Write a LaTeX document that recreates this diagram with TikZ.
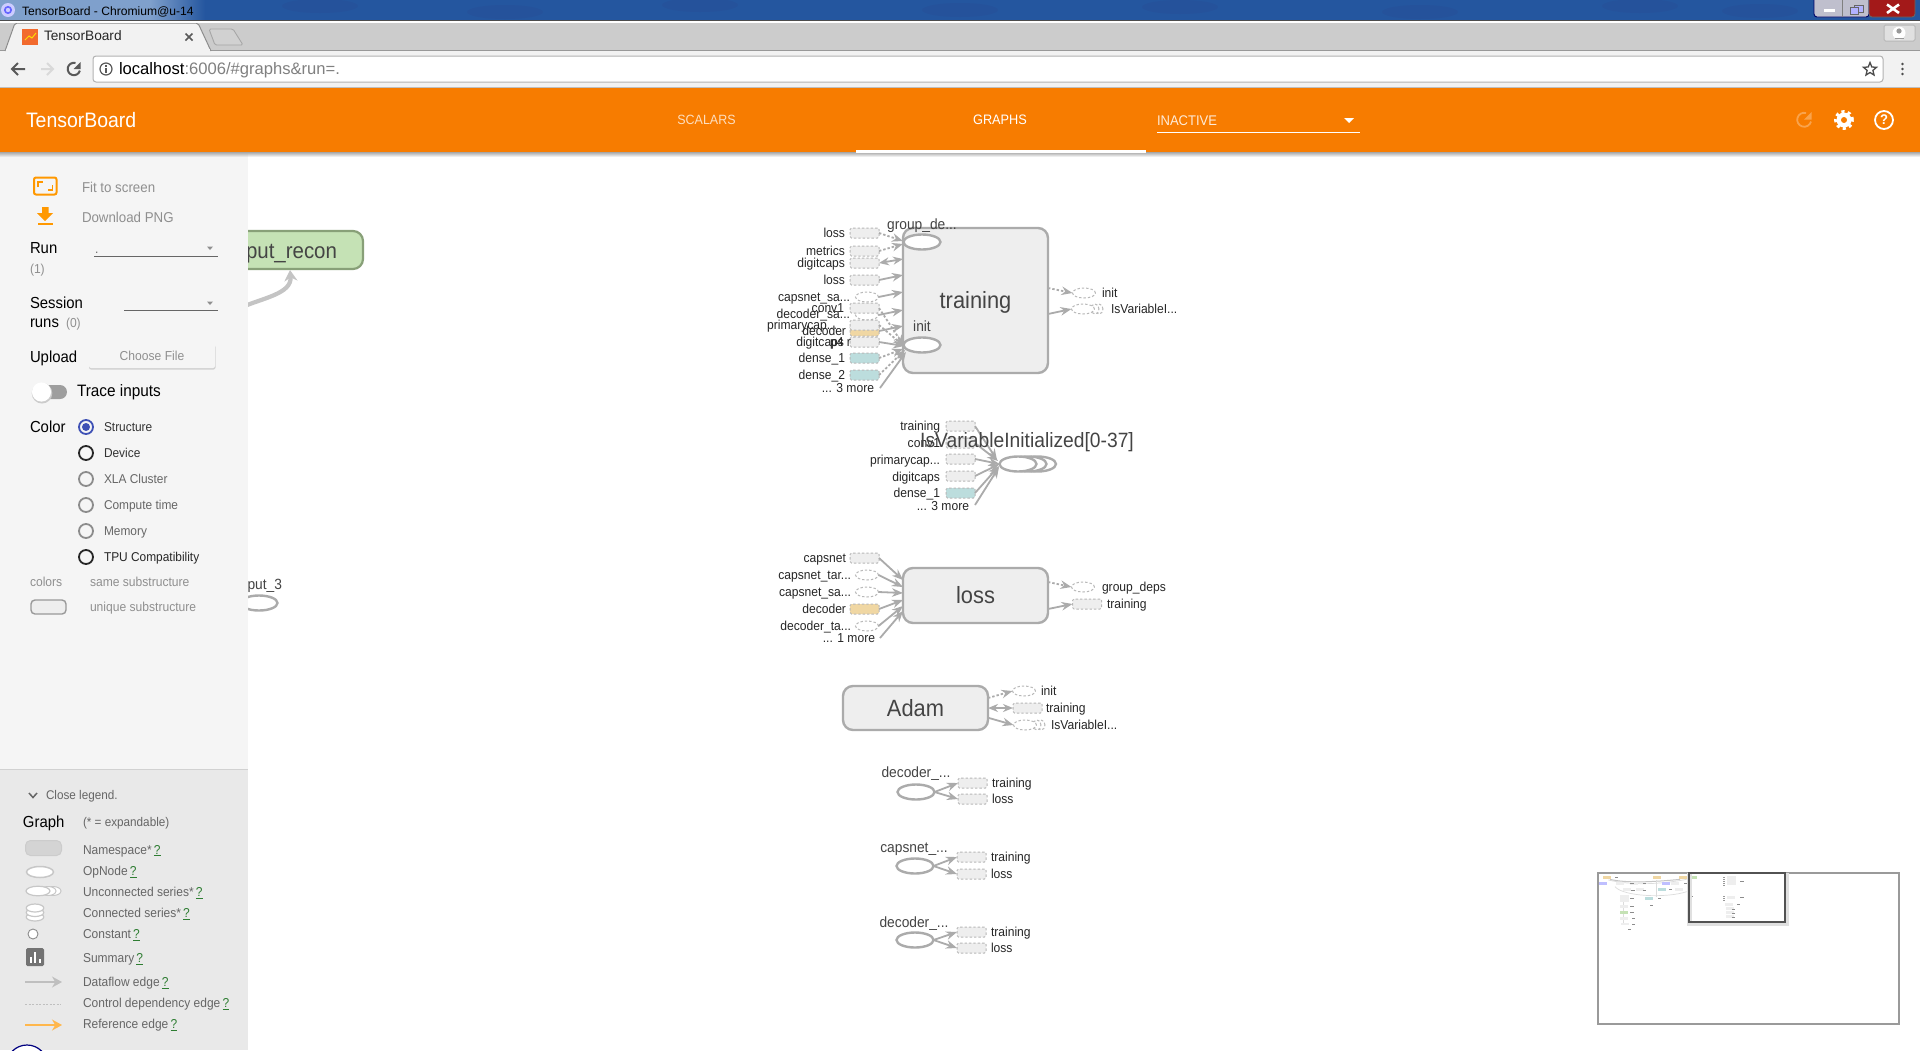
\documentclass[tikz,border=0pt]{standalone}
\usepackage{graphicx}
\usepackage{fontspec}
\setmainfont[FakeStretch=0.93]{Liberation Sans}
\newfontfamily\chromefont{Liberation Sans}
\usetikzlibrary{arrows.meta,shapes.geometric,calc}
\definecolor{gline}{HTML}{ABABAB}
\definecolor{gfill}{HTML}{EEEEEE}
\definecolor{gdash}{HTML}{B8B8B8}
\definecolor{teal1}{HTML}{BCDDDD}
\definecolor{oran1}{HTML}{F0D7A3}
\definecolor{green1}{HTML}{C5E2B5}
\definecolor{green2}{HTML}{88A078}
\definecolor{hdr}{HTML}{F77C00}
\definecolor{side}{HTML}{F5F5F5}
\definecolor{legendbg}{HTML}{E9E9E9}
\definecolor{ora}{HTML}{FF9800}
\definecolor{txg}{HTML}{8F8F8F}
\definecolor{txl}{HTML}{666666}
\definecolor{txn}{HTML}{444444}
\definecolor{qgreen}{HTML}{2E7D32}
\definecolor{radioblue}{HTML}{3F51B5}
\definecolor{strip}{HTML}{CCCCCC}
\definecolor{tool}{HTML}{F2F2F2}
\definecolor{favi}{HTML}{F26A2E}
\definecolor{tb1}{HTML}{24569F}
\definecolor{tb2}{HTML}{7FA0CC}
\tikzset{
  fs/.style={font=\fontsize{#1}{#1}\selectfont},
  tx/.style={inner sep=0pt,outer sep=0pt,execute at begin node={\rule[-.21em]{0pt}{1.14em}}},
  lbl/.style={tx,fs=13,text=black!85,anchor=east},
  lbr/.style={tx,fs=13,text=black!85,anchor=west},
  optitle/.style={tx,fs=14.8,text=txn},
  sidet/.style={tx,anchor=west,text=black,fs=16},
  sideg/.style={tx,anchor=west,text=txg,fs=13},
  radiot/.style={tx,anchor=west,fs=12.8},
  legt/.style={tx,anchor=west,text=txl,fs=12.9},
  smallbox/.style={rectangle,draw=gdash,line width=1pt,dash pattern=on 2.4pt off 2pt,fill=gfill,rounded corners=1.5pt,minimum width=29pt,minimum height=10pt,inner sep=0pt,outer sep=0pt},
  tealbox/.style={smallbox,fill=teal1},
  orabox/.style={smallbox,fill=oran1},
  smallop/.style={ellipse,draw=gdash,line width=1pt,dash pattern=on 2.4pt off 2pt,fill=white,minimum width=23pt,minimum height=10pt,inner sep=0pt,outer sep=0pt},
  bigns/.style={rectangle,draw=gline,line width=2.4pt,fill=gfill,rounded corners=10pt,inner sep=0pt,outer sep=0pt,text=txn,fs=23.5,execute at begin node={\rule[-.21em]{0pt}{1.14em}}},
  opnode/.style={ellipse,draw=gline,line width=2.4pt,fill=white,minimum width=37pt,minimum height=15pt,inner sep=0pt,outer sep=0pt},
  dflow/.style={draw=gline,line width=1.8pt,-{Stealth[length=11pt,width=8.5pt]}},
  ctrl/.style={dflow,dash pattern=on 2.4pt off 2pt},
  both/.style={draw=gline,line width=1.8pt,{Stealth[length=10pt,width=8pt]}-{Stealth[length=10pt,width=8pt]}},
}
\newcommand{\q}{\,\textcolor{qgreen}{\underline{?}}}
\begin{document}
\begin{tikzpicture}[x=1pt,y=-1pt]
\useasboundingbox (0,0) rectangle (1920,1050);
\clip (0,0) rectangle (1920,1050);
\fill[white] (0,0) rectangle (1920,1050);

%% ---------------- graph canvas: partly hidden nodes
\node[rectangle,draw=green2,line width=2.2pt,fill=green1,rounded corners=10pt,minimum width=215pt,minimum height=38pt,inner sep=0pt] (recon) at (255.5,250) {};
\node[tx,fs=22,text=txn,anchor=east] (recontxt) at (337,251) {put\_recon};
\coordinate (reconfoot) at (240,308);
\coordinate (recontip) at (290,270);
\draw[draw=gline!70,line width=4.2pt,-{Stealth[length=11pt,width=13pt]}] (reconfoot) .. controls (262,298) and (292,294) .. (recontip);
\node[optitle,anchor=east] (put3) at (282,584) {put\_3};
\node[opnode] (put3op) at (259,603) {};

%% ---------------- training
\node[bigns,minimum width=145pt,minimum height=145pt] (training) at (975.5,300.5) {training};
\node[opnode] (groupde) at (922,242) {};
\node[opnode] (initop) at (922,345) {};
\node[optitle] (groupdet) at (922,224) {group\_de...};
\node[optitle] (initt) at (922,326) {init};

\node[smallbox] (tr1) at (864.5,233) {};
\node[smallbox] (tr2) at (864.5,251) {};
\node[smallbox] (tr3) at (864.5,263) {};
\node[smallbox] (tr4) at (864.5,280) {};
\node[smallop] (tr5) at (867,297) {};
\node[smallop] (tr7) at (867,315) {};
\node[smallbox] (tr6) at (864.5,308) {};
\node[orabox] (tr9) at (864.5,331) {};
\node[smallbox] (tr8) at (864.5,325) {};
\node[smallbox] (tr10) at (864.5,342) {};
\node[tealbox] (tr11) at (864.5,358) {};
\node[tealbox] (tr12) at (864.5,375) {};

\node[lbl] (trl1) at (845,233) {loss};
\node[lbl] (trl2) at (845,251) {metrics};
\node[lbl] (trl3) at (845,263) {digitcaps};
\node[lbl] (trl4) at (845,280) {loss};
\node[lbl] (trl5) at (850,297) {capsnet\_sa...};
\node[lbl] (trl6) at (844,308) {conv1};
\node[lbl] (trl7) at (850,314) {decoder\_sa...};
\node[lbl] (trl8) at (837,325) {primarycap...};
\node[lbl] (trl9) at (846,331) {decoder};
\node[lbl] (trl10) at (844,342) {digitcaps};
\node[lbl] (trl10b) at (851,342) {p4 r};
\node[lbl] (trl11) at (845,358) {dense\_1};
\node[lbl] (trl12) at (845,375) {dense\_2};
\node[lbl] (trl13) at (874,388) {... 3 more};
\coordinate (trm) at (880,388);

\coordinate (p1) at (903,241);
\coordinate (p2) at (903,244);
\coordinate (p3) at (903,259);
\coordinate (p4) at (903,275);
\coordinate (p5) at (903,292);
\coordinate (p7) at (903,310);
\coordinate (p9) at (903,326);
\coordinate (pa) at (904,346);
\coordinate (pb) at (903,349);
\coordinate (pc) at (905,350);
\coordinate (pd) at (906,352);
\draw[ctrl] (tr1.east) -- (p1);
\draw[ctrl] (tr2.east) -- (p2);
\draw[both] (tr3.east) -- (p3);
\draw[dflow] (tr4.east) -- (p4);
\draw[dflow] (tr5.east) -- (p5);
\draw[dflow] (tr7.east) -- (p7);
\draw[dflow] (tr9.east) -- (p9);
\draw[ctrl] (tr6.east) -- (pa);
\draw[ctrl] (tr8.east) -- (pa);
\draw[dflow] (tr10.east) -- (pa);
\draw[ctrl] (tr11.east) -- (pb);
\draw[ctrl] (tr12.east) -- (pc);
\draw[dflow] (trm) -- (pd);

\node[smallop] (tro1) at (1084,293) {};
\node[smallop,minimum width=8pt] (tro2c) at (1099,309) {};
\node[smallop,minimum width=8pt] (tro2b) at (1095,309) {};
\node[smallop] (tro2) at (1083,309) {};
\node[lbr] (trol1) at (1102,293) {init};
\node[lbr] (trol2) at (1111,309) {IsVariableI...};
\coordinate (trs1) at (1048,288);
\coordinate (trs2) at (1048,314);
\draw[ctrl] (trs1) -- (tro1.west);
\draw[dflow] (trs2) -- (tro2.west);

%% ---------------- IsVariableInitialized
\node[smallbox] (iv1) at (960.5,426) {};
\node[smallbox] (iv2) at (960.5,443) {};
\node[smallbox] (iv3) at (960.5,459) {};
\node[smallbox] (iv4) at (960.5,476) {};
\node[tealbox] (iv5) at (960.5,493) {};
\node[lbl] (ivl1) at (940,426) {training};
\node[lbl] (ivl2) at (940,443) {conv1};
\node[lbl] (ivl3) at (940,460) {primarycap...};
\node[lbl] (ivl4) at (940,477) {digitcaps};
\node[lbl] (ivl5) at (940,493) {dense\_1};
\node[lbl] (ivl6) at (969,506) {... 3 more};
\coordinate (ivm) at (975,505);
\node[opnode] (ivc) at (1037.5,464) {};
\node[opnode] (ivb) at (1028,464) {};
\node[opnode] (iva) at (1018,464) {};
\draw[dflow] (iv1.east) -- (997,460);
\draw[dflow] (iv2.east) -- (998,461);
\draw[dflow] (iv3.east) -- (iva.west);
\draw[dflow] (iv4.east) -- (iva.west);
\draw[dflow] (iv5.east) -- (999,466);
\draw[dflow] (ivm) -- (999,467);
\node[tx,fs=20.7,text=txn] (ivt) at (1027,440) {IsVariableInitialized[0-37]};

%% ---------------- loss
\node[bigns,minimum width=145pt,minimum height=55pt] (lossn) at (975.5,595.5) {loss};
\node[smallbox] (ls1) at (864.5,558) {};
\node[smallop] (ls2) at (867,575) {};
\node[smallop] (ls3) at (867,592) {};
\node[orabox] (ls4) at (864.5,609) {};
\node[smallop] (ls5) at (867,626) {};
\coordinate (lsm) at (880,638);
\node[lbl] (lsl1) at (846,558) {capsnet};
\node[lbl] (lsl2) at (851,575) {capsnet\_tar...};
\node[lbl] (lsl3) at (851,592) {capsnet\_sa...};
\node[lbl] (lsl4) at (846,609) {decoder};
\node[lbl] (lsl5) at (851,626) {decoder\_ta...};
\node[lbl] (lsl6) at (875,638) {... 1 more};
\draw[dflow] (ls1.east) -- (903,580);
\draw[dflow] (ls2.east) -- (903,587);
\draw[dflow] (ls3.east) -- (903,593);
\draw[dflow] (ls4.east) -- (903,600);
\draw[dflow] (ls5.east) -- (903,606);
\draw[dflow] (lsm) -- (903,611);
\node[smallop] (lso1) at (1083,587) {};
\node[smallbox] (lso2) at (1087,604) {};
\node[lbr] (lsol1) at (1102,587) {group\_deps};
\node[lbr] (lsol2) at (1107,604) {training};
\coordinate (lss1) at (1048,582);
\coordinate (lss2) at (1048,609);
\draw[ctrl] (lss1) -- (lso1.west);
\draw[dflow] (lss2) -- (lso2.west);

%% ---------------- Adam
\node[bigns,minimum width=145pt,minimum height=44pt] (adam) at (915.5,708) {Adam};
\node[smallop] (ad1) at (1024,691) {};
\node[smallbox] (ad2) at (1027.5,708) {};
\node[smallop,minimum width=8pt] (ad3c) at (1041,725) {};
\node[smallop,minimum width=8pt] (ad3b) at (1037,725) {};
\node[smallop] (ad3) at (1025,725) {};
\node[lbr] (adl1) at (1041,691) {init};
\node[lbr] (adl2) at (1046,708) {training};
\node[lbr] (adl3) at (1051,725) {IsVariableI...};
\coordinate (ads1) at (988,698);
\coordinate (ads3) at (989,718);
\draw[ctrl] (ads1) -- (ad1.west);
\draw[both] (adam.east) -- (ad2.west);
\draw[dflow] (ads3) -- (ad3.west);

%% ---------------- three lower ops
\node[optitle] (d1t) at (916,772) {decoder\_...};
\node[opnode] (d1) at (916,792) {};
\node[smallbox] (d1a) at (972.5,783) {};
\node[smallbox] (d1b) at (972.5,799) {};
\node[lbr] (d1al) at (992,783) {training};
\node[lbr] (d1bl) at (992,799) {loss};
\draw[dflow] (d1.east) -- (d1a.west);
\draw[dflow] (d1.east) -- (d1b.west);

\node[optitle] (c1t) at (914,847) {capsnet\_...};
\node[opnode] (c1) at (915,866) {};
\node[smallbox] (c1a) at (971.5,857) {};
\node[smallbox] (c1b) at (971.5,874) {};
\node[lbr] (c1al) at (991,857) {training};
\node[lbr] (c1bl) at (991,874) {loss};
\draw[dflow] (c1.east) -- (c1a.west);
\draw[dflow] (c1.east) -- (c1b.west);

\node[optitle] (d2t) at (914,922) {decoder\_...};
\node[opnode] (d2) at (915,940) {};
\node[smallbox] (d2a) at (971.5,932) {};
\node[smallbox] (d2b) at (971.5,948) {};
\node[lbr] (d2al) at (991,932) {training};
\node[lbr] (d2bl) at (991,948) {loss};
\draw[dflow] (d2.east) -- (d2a.west);
\draw[dflow] (d2.east) -- (d2b.west);

%% ---------------- minimap
\draw[draw=txg!90,line width=1.5pt,fill=white] (1598,873) rectangle (1899,1024);
\begin{scope}[shift={(1590,860)},x=.3333pt,y=-.3333pt]
  \draw[gdash!50,line width=.7pt] (55,60) .. controls (120,75) and (200,75) .. (290,58);
  \draw[gdash!80,line width=1pt] (60,58) .. controls (110,70) and (190,66) .. (270,58);
  \draw[gdash!50,line width=.7pt] (75,80) .. controls (100,110) and (230,115) .. (290,95);
  \draw[gdash!50,line width=.7pt] (100,120) -- (100,190);
  \draw[gdash!50,line width=.7pt] (200,60) -- (200,110);
  \foreach \a/\b/\c in {52/53/oran1,200/53/oran1,280/53/oran1,308/53/green1,38/71/blue!25,227/71/blue!25,90/71/gfill,132/71/gfill,255/71/gfill,110/88/gfill,150/88/gfill,215/88/teal1,268/88/gfill,178/115/teal1,103/140/gfill,103/157/green1,103/175/gfill,105/192/gfill,417/133/gfill,421/145/gfill,421/157/gfill,421/170/gfill}
    \fill[\c] (\a-12,\b-4) rectangle (\a+12,\b+4);
  \fill[gfill] (90,106) rectangle (116,125);
  \fill[gfill] (412,49) rectangle (438,76);
  \fill[gfill] (411,108) rectangle (436,118);
  \foreach \a/\b in {78/53,125/71,162/71,128/90,162/90,240/88,285/70,207/115,125/115,125/140,125/157,130/175,130/192,118/207,455/64,455/113,445/133,430/147,430/159,430/171,302/108,183/136}
    \fill[black!45] (\a-4,\b-1.5) rectangle (\a+6,\b+1.5);
  \foreach \b in {52,58,64,70,76}
    \fill[black!40] (398,\b) rectangle (405,\b+3);
  \foreach \b in {107,113,119}
    \fill[black!40] (398,\b) rectangle (405,\b+3);
\end{scope}
\draw[black!12,line width=5pt] (1689,873) -- (1689,923) -- (1786,923) -- (1786,873);
\draw[black!68,line width=2pt] (1689,873) rectangle (1785,922);

%% ---------------- sidebar
\fill[side] (0,153) rectangle (248,770);
\fill[legendbg] (0,770) rectangle (248,1050);
\draw[black!18,line width=1pt] (0,769.5) -- (248,769.5);

% fit icon
\draw[ora,line width=2pt,rounded corners=2pt] (34,177.5) rectangle (56.5,194.5);
\draw[ora,line width=1.6pt] (38,187) -- (38,182) -- (43,182);
\draw[ora,line width=1.6pt] (52.5,185) -- (52.5,190) -- (47.5,190);
\node[sideg,fs=14.3] (fit) at (82,187) {Fit to screen};
% download icon
\fill[ora] (42,207) -- (48.5,207) -- (48.5,213) -- (53,213) -- (45,221) -- (37,213) -- (42,213) -- cycle;
\fill[ora] (37.5,222.5) rectangle (53,224.5);
\node[sideg,fs=14.3] (dl) at (82,217) {Download PNG};

\node[sidet] (run) at (30,248) {Run};
\node[sideg,fs=13] (run1) at (30,269) {(1)};
\node[tx,anchor=west,fs=13,text=txl] (rundot) at (95,249) {.};
\draw[black!60,line width=.9pt] (94,256) -- (218,256);
\fill[txg] (207,246.5) -- (213,246.5) -- (210,250) -- cycle;
\node[sidet] (sess) at (30,303) {Session};
\node[sidet] (runs) at (30,322) {runs};
\node[sideg,fs=13] (runs0) at (66,323) {(0)};
\draw[black!60,line width=.9pt] (124,310) -- (218,310);
\fill[txg] (207,301.5) -- (213,301.5) -- (210,305) -- cycle;
\node[sidet] (up) at (30,357) {Upload};
\fill[black!18,rounded corners=2pt] (89,345) rectangle (215.5,369.5);
\node[rectangle,fill=side,rounded corners=2pt,minimum width=126pt,minimum height=25pt,inner sep=0pt,text=txg,fs=13] (choose) at (152,355.5) {Choose File};
\fill[black!38!white,rounded corners=7pt] (33,385) rectangle (67,399);
\fill[black!20] (42,393.2) circle (10.3pt);
\fill[white] (41.5,392) circle (9.6pt);
\node[sidet,fs=16.5] (trace) at (77,391) {Trace inputs};
\node[sidet] (color) at (30,427) {Color};

\draw[radioblue,line width=1.8pt] (86,427) circle (7pt);
\fill[radioblue] (86,427) circle (4pt);
\node[radiot,text=black!80] (r1) at (104,427) {Structure};
\draw[black!85,line width=1.8pt] (86,453) circle (7pt);
\node[radiot,text=black!80] (r2) at (104,453) {Device};
\draw[black!45,line width=1.8pt] (86,479) circle (7pt);
\node[radiot,text=txl] (r3) at (104,479) {XLA Cluster};
\draw[black!45,line width=1.8pt] (86,505) circle (7pt);
\node[radiot,text=txl] (r4) at (104,505) {Compute time};
\draw[black!45,line width=1.8pt] (86,531) circle (7pt);
\node[radiot,text=txl] (r5) at (104,531) {Memory};
\draw[black!85,line width=1.8pt] (86,557) circle (7pt);
\node[radiot,text=black!85] (r6) at (104,557) {TPU Compatibility};
\node[sideg] (colors) at (30,582) {colors};
\node[sideg] (same) at (90,582) {same substructure};
\draw[black!40,line width=1.4pt,fill=gfill,rounded corners=4pt] (31,600) rectangle (66,614);
\node[sideg] (uniq) at (90,607) {unique substructure};

%% ---------------- legend
\draw[txl,line width=1.5pt] (29,793) -- (33,797.5) -- (37,793);
\node[legt,fs=12.6] (closel) at (46,795) {Close legend.};
\node[sidet] (graphl) at (23,822) {Graph};
\node[legt,fs=12.6] (expand) at (83,822) {(* = expandable)};
\draw[black!20,line width=1pt,fill=black!17,rounded corners=5pt] (25.5,840.5) rectangle (61.5,855.5);
\node[legt] (l1) at (83,849.5) {Namespace*\q};
\draw[black!22,line width=1.5pt,fill=white] (40,872) ellipse (13.5pt and 5.5pt);
\node[legt] (l2) at (83,871) {OpNode\q};
\draw[black!22,line width=1pt,fill=white] (53,891) ellipse (8pt and 4.5pt);
\draw[black!22,line width=1pt,fill=white] (48,891) ellipse (8pt and 4.5pt);
\draw[black!22,line width=1.2pt,fill=white] (38,891) ellipse (12pt and 4.8pt);
\node[legt] (l3) at (83,892) {Unconnected series*\q};
\draw[black!22,line width=1.2pt,fill=white] (35,917) ellipse (8.8pt and 4pt);
\draw[black!22,line width=1.2pt,fill=white] (35,912.5) ellipse (8.8pt and 4pt);
\draw[black!22,line width=1.2pt,fill=white] (35,908) ellipse (8.8pt and 4pt);
\node[legt] (l4) at (83,913) {Connected series*\q};
\draw[black!45,line width=.9pt,fill=white] (33,934) circle (5pt);
\node[legt] (l5) at (83,934) {Constant\q};
\fill[black!55,rounded corners=1.5pt] (26,948) rectangle (44,966);
\fill[white] (29.5,957) rectangle (31.5,963);
\fill[white] (34,951.5) rectangle (36,963);
\fill[white] (38.5,959) rectangle (40.5,963);
\node[legt] (l6) at (83,958) {Summary\q};
\coordinate (le1a) at (25,982);
\coordinate (le1b) at (62,982);
\draw[black!25,line width=1.3pt,-{Stealth[length=10pt,width=11pt]}] (le1a) -- (le1b);
\node[legt] (l7) at (83,982) {Dataflow edge\q};
\coordinate (le2a) at (25,1004);
\coordinate (le2b) at (61,1004);
\draw[black!25,line width=1pt,dash pattern=on 2pt off 1.5pt] (le2a) -- (le2b);
\node[legt] (l8) at (83,1003) {Control dependency edge\q};
\coordinate (le3a) at (25,1025);
\coordinate (le3b) at (62,1025);
\draw[ora!70,line width=1.3pt,-{Stealth[length=10pt,width=11pt]}] (le3a) -- (le3b);
\node[legt] (l9) at (83,1024) {Reference edge\q};
\draw[blue!50!black,line width=1.2pt,fill=white] (27,1065.5) circle (20.5pt);

%% ---------------- orange header
\shade[top color=black!35,bottom color=side] (0,152) rectangle (248,157);
\shade[top color=black!35,bottom color=white] (248,152) rectangle (1920,157);
\fill[hdr] (0,87) rectangle (1920,152);
\node[tx,anchor=west,fs=20.9,text=white] (brand) at (26,120) {TensorBoard};
\node[tx,fs=13.4,text=white!75!hdr] (scalars) at (706.5,120) {SCALARS};
\node[tx,fs=13.7,text=white] (graphs) at (1000,120) {GRAPHS};
\fill[white] (856,150) rectangle (1146,152.5);
\node[tx,anchor=west,fs=14,text=white!85!hdr] (inactive) at (1157,120) {INACTIVE};
\fill[white] (1157,131.5) rectangle (1360,132.5);
\fill[white] (1344,118) -- (1354,118) -- (1349,123) -- cycle;
% faded reload
\draw[white!30!hdr,line width=1.8pt] (1806,113) arc[start angle=75,end angle=345,radius=7pt];
\fill[white!30!hdr] (1811.5,112) -- (1811.5,119.5) -- (1804,119.5) -- cycle;
% gear
\draw[white,line width=3.5pt,dash pattern=on 3pt off 3.2pt] (1844,120) circle (8.2pt);
\fill[white] (1844,120) circle (7.5pt);
\fill[hdr] (1844,120) circle (3pt);
% help
\draw[white,line width=1.8pt] (1884,120) circle (9pt);
\node[inner sep=0pt,fs=14,text=white] (help) at (1884,120) {\bfseries ?};

%% ---------------- chrome
\fill[tool] (0,50) rectangle (1920,87);
\fill[black!25] (0,86.5) rectangle (1920,87.5);
\fill[strip] (0,22) rectangle (1920,50);
\fill[black!40] (0,49.5) rectangle (1920,50.5);
\draw[black!45,line width=1pt,fill=tool,rounded corners=2pt] (5,51) -- (15,23) -- (198,23) -- (211,51);
\fill[tool] (6,49) rectangle (210,52);
\fill[favi] (22,29) rectangle (38,45);
\draw[yellow!80!orange,line width=1pt] (25,40) -- (29,36) -- (32,38) -- (36,33);
\node[tx,anchor=west,text=black!85,font=\chromefont\fontsize{13.7}{14}\selectfont] (tabt) at (44,36) {TensorBoard};
\draw[black!65,line width=1.6pt] (185.5,33.5) -- (192.5,40.5) (192.5,33.5) -- (185.5,40.5);
\draw[black!35,line width=.9pt,fill=strip!90!white,rounded corners=1.5pt] (209,29) -- (233,29) -- (243,45) -- (215,45) -- cycle;
% nav
\draw[black!65,line width=2pt] (25,69) -- (12,69) (18,63) -- (12,69) -- (18,75);
\draw[black!15,line width=2pt] (41,69) -- (53,69) (47,63) -- (53,69) -- (47,75);
\draw[black!65,line width=2pt] (75.5,63) arc[start angle=75,end angle=345,radius=6.2pt];
\fill[black!65] (80.5,62) -- (80.5,69) -- (73.5,69) -- cycle;
\draw[black!30,line width=1pt,fill=white,rounded corners=3pt] (93,56) rectangle (1883,82);
\draw[black!65,line width=1.2pt] (106,69) circle (6pt);
\fill[black!65] (105.3,68) rectangle (106.7,72.5);
\fill[black!65] (105.3,65.2) rectangle (106.7,66.6);
\node[tx,anchor=west,text=black,font=\chromefont\fontsize{16.6}{17}\selectfont] (url) at (119,69) {localhost\textcolor{black!50}{:6006/\#graphs\&run=.}};
\draw[black!70,line width=1.3pt] (1870,62.5) -- (1871.8,67) -- (1876.5,67.3) -- (1872.9,70.4) -- (1874,75) -- (1870,72.5) -- (1866,75) -- (1867.1,70.4) -- (1863.5,67.3) -- (1868.2,67) -- cycle;
\foreach \b in {64,69,74} \fill[black!70] (1902.5,\b) circle (1.4pt);
% title bar
\fill[tb1] (0,0) rectangle (1920,20);
\shade[left color=tb2,right color=tb1] (150,0) rectangle (205,20);
\fill[tb2] (0,0) rectangle (150,20);
\foreach \a/\b in {320/6,505/12,700/5,960/10,1180/7,1420/12,1640/6,1760/11}
  \fill[blue!35!black!80,opacity=.1] (\a,\b) ellipse (38pt and 7pt);
\fill[black!70] (0,20) rectangle (1920,21);
\fill[white] (0,21) rectangle (1920,22.5);
\fill[blue!20!white] (8,10) circle (7pt);
\draw[blue!60!white,line width=1.6pt] (8,10) circle (3.2pt);
\node[tx,anchor=west,text=black,font=\chromefont\fontsize{12.1}{13}\selectfont] (wint) at (22,11) {TensorBoard - Chromium@u-14};
% window buttons
\draw[black!60!blue,line width=.9pt,fill=blue!22!black!25!white,rounded corners=3pt] (1814,-4) rectangle (1869,17);
\draw[black!60,line width=.9pt,fill=red!60!black!90!white,rounded corners=3pt] (1869,-4) rectangle (1915,17);
\draw[black!50,line width=.7pt] (1842.5,0) -- (1842.5,17);
\fill[white] (1824,8.5) rectangle (1834.5,12);
\draw[black!60,line width=1pt,fill=white!70!blue] (1854,5) rectangle (1863,12);
\draw[black!60,line width=1pt,fill=white!70!blue] (1850.5,7.5) rectangle (1858.5,14);
\draw[white,line width=2.6pt] (1887,4.5) -- (1899,13) (1899,4.5) -- (1887,13);
% profile button
\draw[black!28,line width=1pt,fill=black!12,rounded corners=1.5pt] (1884,25) rectangle (1915,41);
\fill[white] (1899,33) circle (6.5pt);
\fill[black!40] (1899,31) circle (2.6pt);
\fill[black!40] (1894.5,37.5) rectangle (1903.5,39);
\end{tikzpicture}
\end{document}
